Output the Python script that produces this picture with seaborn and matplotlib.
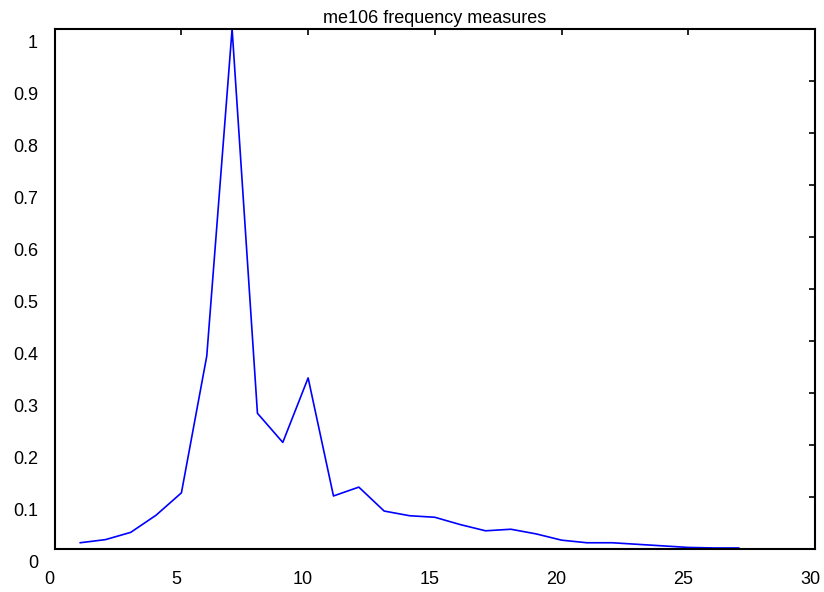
import matplotlib
matplotlib.use("Agg")
import matplotlib.pyplot as plt
import matplotlib.transforms as mtransforms
import seaborn as sns
import pandas as pd

x_vals = list(range(1, 28))
freq = [0.012, 0.018, 0.032, 0.065, 0.108, 0.371, 1.0, 0.261, 0.205, 0.329,
        0.102, 0.119, 0.073, 0.064, 0.061, 0.047, 0.035, 0.038, 0.029, 0.017,
        0.012, 0.012, 0.009, 0.006, 0.003, 0.002, 0.002]
x_ticks = [0, 5, 10, 15, 20, 25, 30]
y_ticks = [0, 0.1, 0.2, 0.3, 0.4, 0.5, 0.6, 0.7, 0.8, 0.9, 1]
y_labels = ["0", "0.1", "0.2", "0.3", "0.4", "0.5", "0.6", "0.7", "0.8", "0.9", "1"]
title = "me106 frequency measures"

sns.set_theme(style="white")
plt.rcParams['font.family'] = ['Liberation Sans', 'DejaVu Sans']
plt.rcParams['text.color'] = 'black'

df = pd.DataFrame({"x": x_vals, "y": freq})

fig = plt.figure(figsize=(8.24, 5.92), dpi=100)
ax = fig.add_axes([54.7 / 824, 43 / 592, (815 - 54.7) / 824, (549 - 29) / 592])
sns.lineplot(data=df, x="x", y="y", ax=ax, color="#0000ff", linewidth=1.2)

ax.set_xlim(0, 30)
ax.set_ylim(0, 1)
ax.set_xticks(x_ticks)
ax.set_xticklabels([str(t) for t in x_ticks])
ax.set_yticks(y_ticks)
ax.set_yticklabels(y_labels)
ax.set_xlabel("")
ax.set_ylabel("")
ax.set_title(title, fontsize=13, pad=4, color="black")

for s in ax.spines.values():
    s.set_visible(True)
    s.set_color("black")
    s.set_linewidth(1.5)

ax.tick_params(axis="both", direction="in", length=4.5, width=1.2, colors="black",
               labelsize=13, labelcolor="black", top=True, right=True)
ax.tick_params(axis="x", pad=16)
ax.tick_params(axis="y", pad=12)

off_y = mtransforms.ScaledTranslation(0, -12 / 100, fig.dpi_scale_trans)
for lab in ax.get_yticklabels():
    lab.set_transform(lab.get_transform() + off_y)
off_x = mtransforms.ScaledTranslation(-5 / 100, 0, fig.dpi_scale_trans)
for lab in ax.get_xticklabels():
    lab.set_transform(lab.get_transform() + off_x)

fig.savefig("out.png", dpi=100)
